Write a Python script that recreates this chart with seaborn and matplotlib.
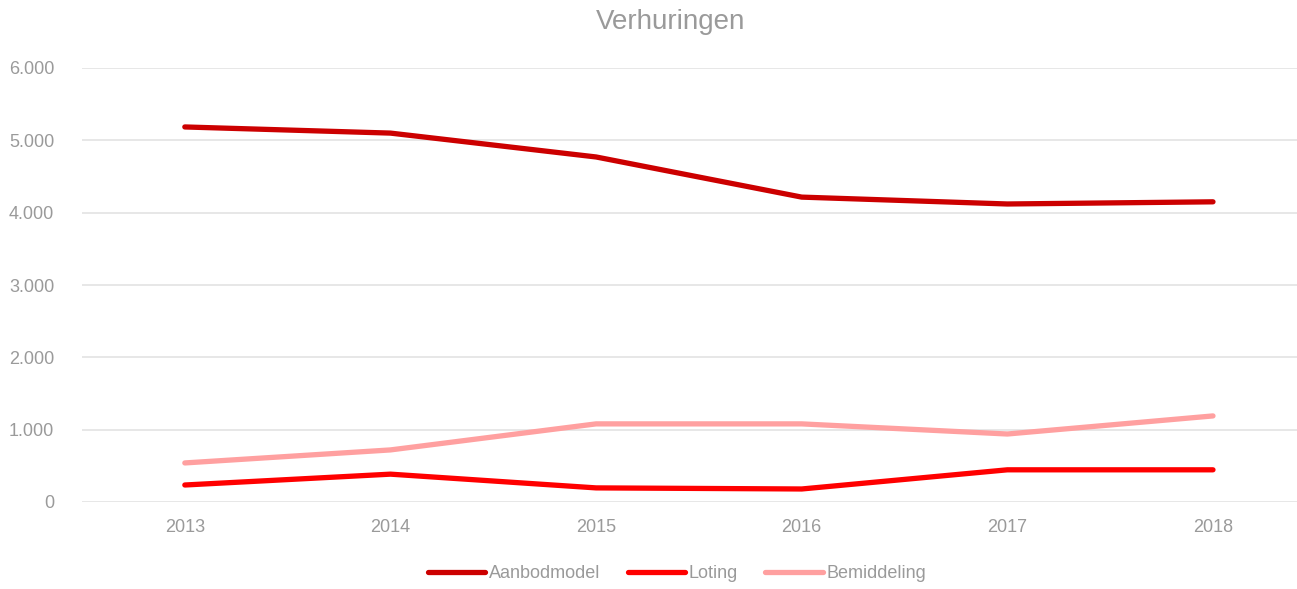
import pandas as pd
import matplotlib.pyplot as plt
import seaborn as sns
from matplotlib.ticker import FuncFormatter

# ---------- DATA ----------
years = [2013, 2014, 2015, 2016, 2017, 2018]
aanbodmodel = [5185, 5100, 4770, 4215, 4120, 4150]
loting = [235, 385, 195, 180, 445, 445]
bemiddeling = [540, 720, 1080, 1080, 940, 1190]

series_names = ["Aanbodmodel", "Loting", "Bemiddeling"]
colors = ["#cc0000", "#ff0000", "#ffa0a0"]

df = pd.DataFrame({
    "Jaar": [str(y) for y in years] * 3,
    "Aantal": aanbodmodel + loting + bemiddeling,
    "Serie": [n for n in series_names for _ in years],
})

# ---------- STYLE ----------
sns.set_theme(style="white")
plt.rcParams["font.family"] = ["Liberation Sans Narrow", "Liberation Sans", "DejaVu Sans"]
grey = "#9a9a9a"

fig = plt.figure(figsize=(12.97, 5.89), dpi=100)
ax = fig.add_axes([82 / 1297, 87 / 589, 1 - 82 / 1297, 434 / 589])

sns.lineplot(data=df, x="Jaar", y="Aantal", hue="Serie", hue_order=series_names,
             palette=colors, linewidth=3.8, sort=False, ax=ax,
             solid_capstyle="round", legend=False)

ax.set_xlim(-0.5, 5 + (1297 - 1213) / 205.6)
ax.set_ylim(0, 6000)
ax.set_yticks(range(0, 6001, 1000))
ax.yaxis.set_major_formatter(FuncFormatter(lambda v, p: f"{int(v):,}".replace(",", ".")))
ax.grid(axis="y", color="#e0e0e0", linewidth=1.1)
ax.set_axisbelow(True)
for s in ax.spines.values():
    s.set_visible(False)
ax.tick_params(axis="both", length=0, colors=grey, labelsize=13)
ax.tick_params(axis="y", pad=20)
ax.tick_params(axis="x", pad=12)
ax.set_xlabel("")
ax.set_ylabel("")

fig.suptitle("Verhuringen", x=0.517, y=0.985, va="top", color=grey, fontsize=20)

handles = [plt.Line2D([], [], color=c, linewidth=3.8, solid_capstyle="round") for c in colors]
fig.legend(handles, series_names, loc="center", bbox_to_anchor=(0.522, 0.026), ncol=3,
           frameon=False, fontsize=13, labelcolor=grey, handlelength=3.2,
           handletextpad=0.2, columnspacing=1.5)

plt.savefig("out.png", dpi=100)
